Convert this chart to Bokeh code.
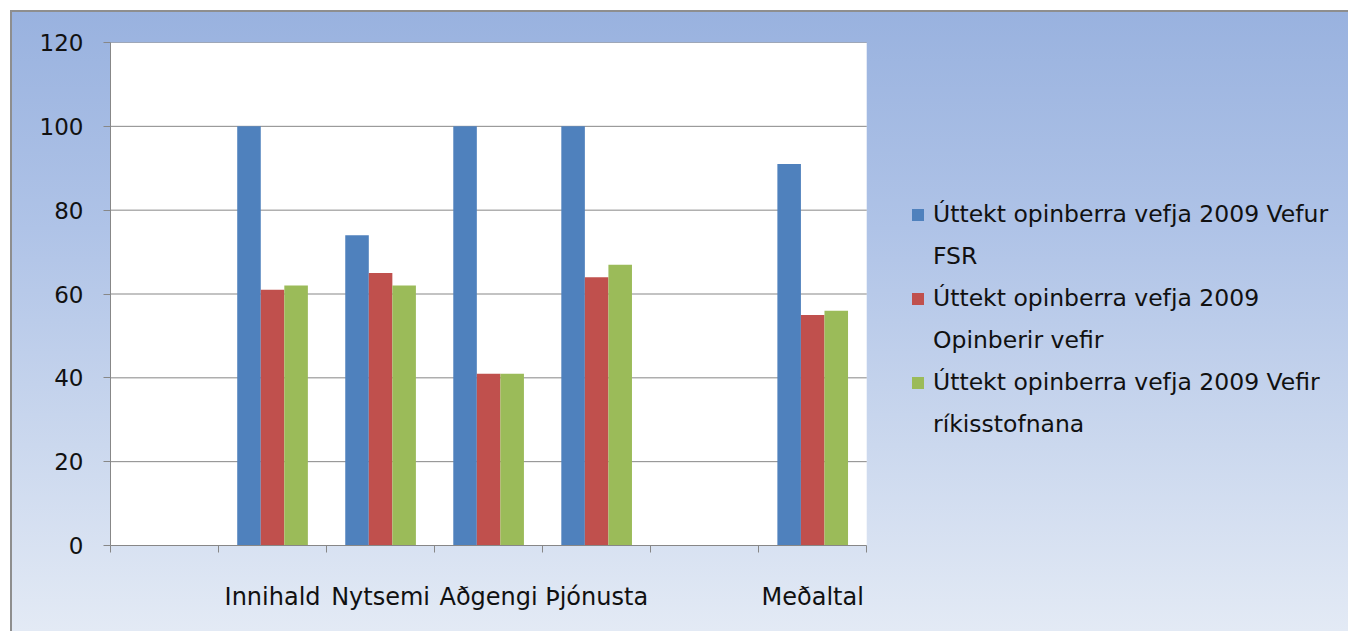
import math
from bokeh.plotting import figure
from bokeh.models import (ColumnDataSource, FixedTicker, Range1d, Legend, LegendItem, BoxAnnotation)
from bokeh.transform import dodge
from bokeh.embed import file_html
from bokeh.resources import INLINE

nan = float("nan")
categories = ["", "Innihald", "Nytsemi", "Aðgengi", "Þjónusta", "", "Meðaltal"]
fsr = [nan, 100, 74, 100, 100, nan, 91]
opinberir = [nan, 61, 65, 41, 64, nan, 55]
rikisstofnanir = [nan, 62, 62, 41, 67, nan, 56]
series_labels = [
    ["Úttekt opinberra vefja 2009 Vefur", "FSR"],
    ["Úttekt opinberra vefja 2009", "Opinberir vefir"],
    ["Úttekt opinberra vefja 2009 Vefir", "ríkisstofnana"],
]
colors = ["#4F81BD", "#C0504D", "#9BBB59"]
y_ticks = [0, 20, 40, 60, 80, 100, 120]

n = len(categories)
idx = list(range(n))
src = ColumnDataSource(dict(x=idx, fsr=fsr, opin=opinberir, rik=rikisstofnanir))

# layout: plot area is 755px wide for the 7 slots; the frame continues to the right
# (transparent) so that the legend can sit there.
W, H = 1338, 621
left_b, top_b, bottom_b = 98, 30, 88
frame_w = (W - 2) - left_b
slot_px = 755 / n
x_end = -0.5 + frame_w / slot_px

p = figure(width=W, height=H, output_backend="svg", toolbar_location=None,
           x_range=Range1d(-0.5, x_end), y_range=Range1d(0, 120),
           min_border_left=left_b, min_border_right=0, min_border_top=top_b,
           min_border_bottom=bottom_b)
p.styles = {
    "margin-left": "10px",
    "margin-top": "10px",
    "border-top": "2px solid #8E8E8E",
    "border-left": "2px solid #8E8E8E",
    "background-image": "linear-gradient(to bottom, #99B2DF 0%, #AFC3E7 35%, #CBD8EE 70%, #E3EAF5 100%)",
}
p.border_fill_alpha = 0
p.background_fill_alpha = 0
p.outline_line_color = None

plot_area = BoxAnnotation(left=-0.5, right=n - 0.5, bottom=0, top=120,
                          fill_color="white", fill_alpha=1, line_color=None, level="image")
p.add_layout(plot_area)

# horizontal gridlines limited to the plot area
p.xgrid.grid_line_color = None
p.ygrid.grid_line_color = None
grid_src = ColumnDataSource(dict(y=y_ticks[1:]))
p.segment(x0=-0.5, x1=n - 0.5, y0="y", y1="y", source=grid_src,
          line_color="#878787", line_width=1)

bw = 0.218
r1 = p.vbar(x=dodge("x", -bw, range=p.x_range), top="fsr", width=bw, source=src,
            fill_color=colors[0], line_color=None)
r2 = p.vbar(x=dodge("x", 0, range=p.x_range), top="opin", width=bw, source=src,
            fill_color=colors[1], line_color=None)
r3 = p.vbar(x=dodge("x", bw, range=p.x_range), top="rik", width=bw, source=src,
            fill_color=colors[2], line_color=None)
blank = p.vbar(x=[], top=[], width=bw, fill_alpha=0, line_alpha=0)

font = "DejaVu Sans"
ya = p.yaxis[0]
ya.ticker = FixedTicker(ticks=y_ticks)
ya.axis_line_color = "#878787"
ya.major_tick_line_color = "#878787"
ya.major_tick_out = 7
ya.major_tick_in = 0
ya.minor_tick_line_color = None
ya.major_label_text_font = font
ya.major_label_text_font_size = "23px"
ya.major_label_text_color = "#111111"
ya.major_label_standoff = 20

xa = p.xaxis[0]
xa.bounds = (-0.5, n - 0.5)
xa.ticker = FixedTicker(ticks=idx, minor_ticks=[i - 0.5 for i in range(n + 1)])
xa.major_label_overrides = {i: c for i, c in enumerate(categories)}
xa.axis_line_color = "#878787"
xa.major_tick_line_color = None
xa.major_tick_out = 0
xa.major_tick_in = 0
xa.minor_tick_line_color = "#878787"
xa.minor_tick_out = 7
xa.minor_tick_in = 0
xa.major_label_text_font = font
xa.major_label_text_font_size = "24px"
xa.major_label_text_color = "#111111"
xa.major_label_standoff = 30

items = []
for r, (l1, l2) in zip([r1, r2, r3], series_labels):
    items.append(LegendItem(label=l1, renderers=[r]))
    items.append(LegendItem(label=l2, renderers=[blank]))

legend = Legend(items=items, location=(800, 106))
legend.padding = 0
legend.margin = 0
legend.border_line_color = None
legend.background_fill_alpha = 0
legend.glyph_width = 15
legend.glyph_height = 15
legend.label_height = 30
legend.label_standoff = 8
legend.spacing = 12
legend.label_text_font = font
legend.label_text_font_size = "23.5px"
legend.label_text_color = "#111111"
p.add_layout(legend, "center")

open("out.html", "w").write(file_html(p, INLINE))
